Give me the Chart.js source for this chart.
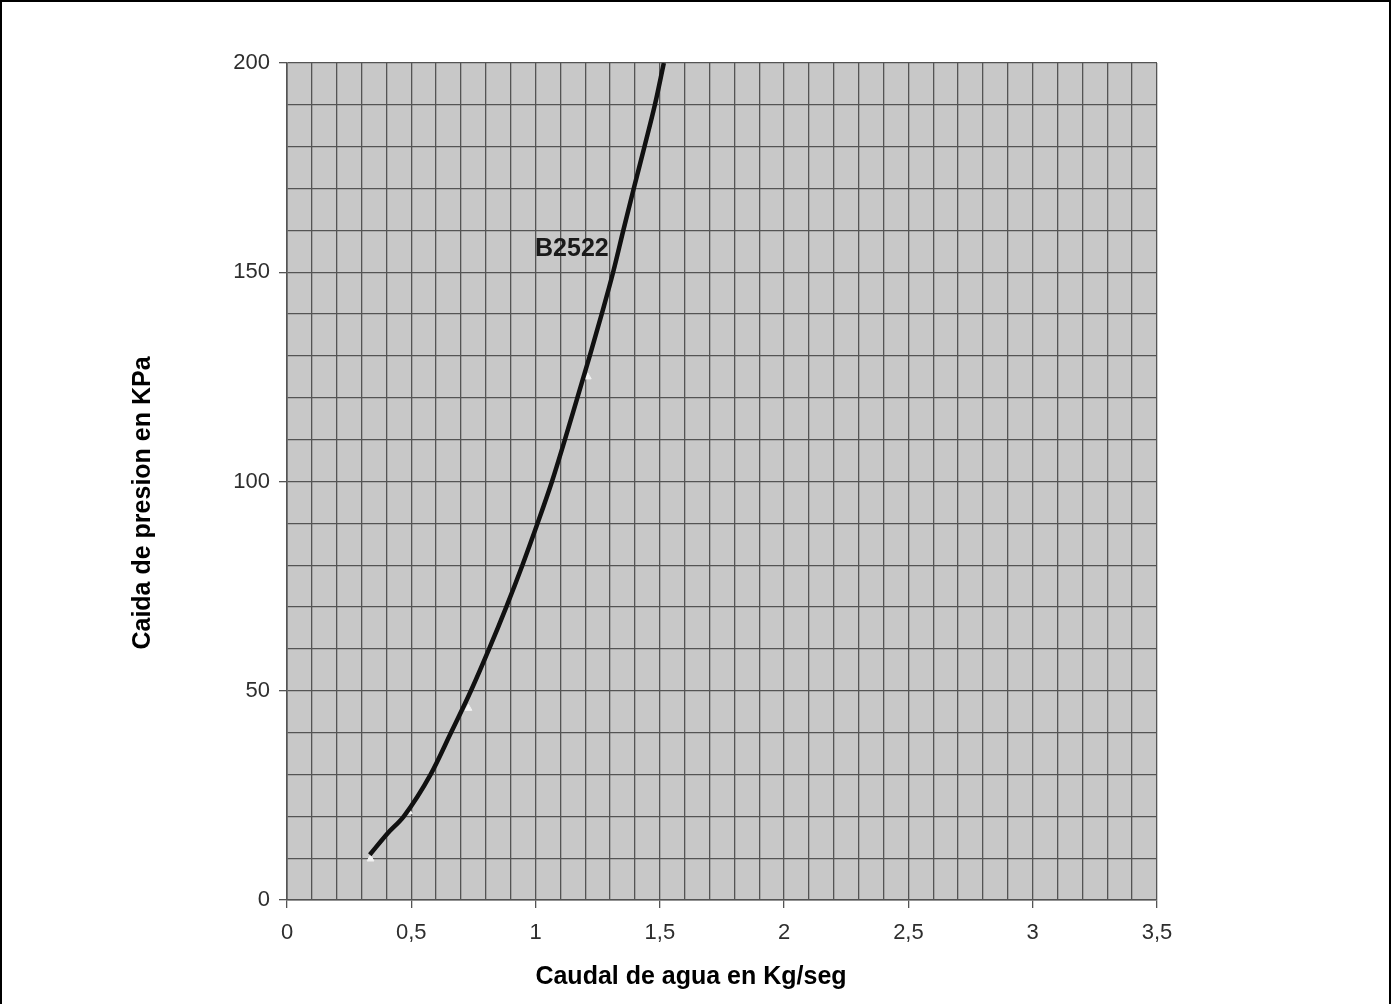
<!DOCTYPE html>
<html>
<head>
<meta charset="utf-8">
<script src="https://cdn.jsdelivr.net/npm/chart.js@4.4.1/dist/chart.umd.min.js"></script>
<style>
  html, body { margin: 0; padding: 0; background: #fff; }
  #wrap { position: relative; width: 1391px; height: 1004px; }
  #c { position: absolute; left: 0; top: 0; }
  #frame { position: absolute; left: 0; top: 0; width: 1391px; height: 1004px; box-sizing: border-box;
           border-top: 2px solid #000; border-left: 2px solid #000; border-right: 2px solid #000; pointer-events: none; }
</style>
</head>
<body>
<div id="wrap">
  <canvas id="c" width="1391" height="1004"></canvas>
  <div id="frame"></div>
</div>
<script>
// Curve B2522: caudal de agua (Kg/seg) vs caida de presion (KPa)
const flowX = [0.333, 0.406, 0.47, 0.578, 0.66, 0.74, 0.813, 0.882, 0.947, 1.008, 1.066, 1.118, 1.168, 1.218, 1.266, 1.312, 1.353, 1.395, 1.438, 1.48, 1.516];
const dropY = [10.8, 16, 20, 30, 40, 50, 60, 70, 80, 90, 100, 110, 120, 130, 140, 150, 160, 170, 180, 190, 200];
// small white triangle markers visible on the curve
const markerX = [0.336, 0.49, 0.73, 1.21];
const markerY = [9.8, 21.1, 45.8, 125];
const seriesLabel = 'B2522';
const labelAt = { x: 1.146, y: 155.6 };
const xTitle = 'Caudal de agua en Kg/seg';
const yTitle = 'Caida de presion en KPa';
const xMin = 0, xMax = 3.5, xStep = 0.1, xLabelEvery = 0.5;
const yMin = 0, yMax = 200, yStep = 10, yLabelEvery = 50;

const curve = flowX.map((x, i) => ({ x, y: dropY[i] }));
const markers = markerX.map((x, i) => ({ x, y: markerY[i] }));

function isMultiple(v, m) { const q = v / m; return Math.abs(q - Math.round(q)) < 1e-6; }
function fmt(v) { const r = Math.round(v * 10) / 10; return String(r).replace('.', ','); }

const GRID = '#545454';
const FONT = '"Liberation Sans", Arial, Helvetica, sans-serif';

const bgPlugin = {
  id: 'plotBg',
  beforeDraw(chart) {
    const { ctx, chartArea: a } = chart;
    ctx.save();
    ctx.fillStyle = '#c8c8c8';
    ctx.fillRect(a.left, a.top, a.right - a.left, a.bottom - a.top);
    ctx.restore();
  }
};
const textPlugin = {
  id: 'texts',
  afterDatasetsDraw(chart) {
    const { ctx, scales, chartArea: a } = chart;
    ctx.save();
    ctx.font = 'bold 25px ' + FONT;
    ctx.fillStyle = '#1a1a1a';
    ctx.textAlign = 'center';
    ctx.textBaseline = 'middle';
    ctx.fillText(seriesLabel, scales.x.getPixelForValue(labelAt.x), scales.y.getPixelForValue(labelAt.y));
    // axis titles
    ctx.fillStyle = '#000';
    ctx.font = 'bold 25px ' + FONT;
    ctx.fillText(xTitle, a.left + 404, a.bottom + 77);
    ctx.translate(a.left - 144, a.top + 440);
    ctx.rotate(-Math.PI / 2);
    ctx.fillText(yTitle, 0, 0);
    ctx.restore();
  }
};

new Chart(document.getElementById('c'), {
  type: 'scatter',
  data: {
    datasets: [
      { label: 'markers', data: markers, showLine: false, pointStyle: 'triangle',
        pointRadius: 4, backgroundColor: '#f2f2f2', borderColor: '#f2f2f2', borderWidth: 1, order: 2 },
      { label: seriesLabel, data: curve, showLine: true, borderColor: '#111', borderWidth: 4.5,
        pointRadius: 0, cubicInterpolationMode: 'monotone', fill: false, order: 1 }
    ]
  },
  options: {
    responsive: false,
    animation: false,
    devicePixelRatio: 1,
    layout: { padding: { left: 126, top: 63, right: 234, bottom: 11 } },
    plugins: { legend: { display: false }, tooltip: { enabled: false } },
    scales: {
      x: {
        type: 'linear', min: xMin, max: xMax,
        afterFit(s) { s.height = 93; },
        ticks: {
          stepSize: xStep, autoSkip: false, maxRotation: 0, padding: 12,
          color: '#2e2e2e', font: { family: FONT, size: 22 },
          callback: (v) => isMultiple(v, xLabelEvery) ? fmt(v) : ''
        },
        grid: {
          color: GRID, lineWidth: 1.3, tickLength: 8,
          tickColor: (c) => (c.tick && isMultiple(c.tick.value, xLabelEvery)) ? GRID : 'rgba(0,0,0,0)'
        },
        border: { color: GRID, width: 1.6 },
        title: { display: false }
      },
      y: {
        type: 'linear', min: yMin, max: yMax,
        afterFit(s) { s.width = 161; },
        ticks: {
          stepSize: yStep, autoSkip: false, padding: 9,
          color: '#2e2e2e', font: { family: FONT, size: 22 },
          callback: (v) => isMultiple(v, yLabelEvery) ? fmt(v) : ''
        },
        grid: {
          color: GRID, lineWidth: 1.3, tickLength: 8,
          tickColor: (c) => (c.tick && isMultiple(c.tick.value, yLabelEvery)) ? GRID : 'rgba(0,0,0,0)'
        },
        border: { color: GRID, width: 1.6 },
        title: { display: false }
      }
    }
  },
  plugins: [bgPlugin, textPlugin]
});
</script>
</body>
</html>
